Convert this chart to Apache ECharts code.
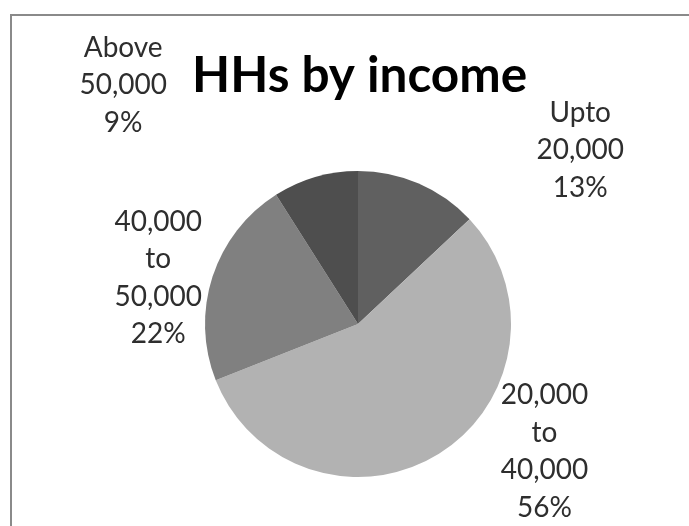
<!DOCTYPE html>
<html>
<head>
<meta charset="utf-8">
<title>HHs by income</title>
<script src="https://cdn.jsdelivr.net/npm/echarts@6/dist/echarts.min.js"></script>
<style>
  html, body { margin: 0; padding: 0; background: #ffffff; }
  #chart { width: 689px; height: 526px; }
</style>
</head>
<body>
<div id="chart"></div>
<script>
// Household income bands and their share of households (%)
const incomeBands = ['Upto\n20,000', '20,000\nto\n40,000', '40,000\nto\n50,000', 'Above\n50,000'];
const shares = [13, 56, 22, 9];
const sliceColors = ['#606060', '#b2b2b2', '#808080', '#4e4e4e'];

// Label anchors around the pie: [angle clockwise from 12 o'clock in degrees, distance from centre in px]
const labelAnchors = [[52, 282], [124.4, 226], [-77, 205], [-44.5, 335]];

const pieCenter = [358, 324];
const pieRadius = 153;

const chart = echarts.init(document.getElementById('chart'), null, { renderer: 'canvas' });

chart.setOption({
  backgroundColor: '#ffffff',
  animation: false,
  title: {
    text: 'HHs by income',
    left: 187,
    top: 46,
    textStyle: {
      fontFamily: 'Lato',
      fontWeight: 'bold',
      fontSize: 49.5,
      color: '#000000'
    }
  },
  graphic: [{
    type: 'polyline',
    shape: { points: [[11, 526], [11, 15], [689, 15]] },
    style: { stroke: '#8a8a8a', lineWidth: 2, fill: null }
  }],
  series: [{
    type: 'pie',
    center: pieCenter,
    radius: pieRadius,
    startAngle: 90,
    clockwise: true,
    avoidLabelOverlap: false,
    itemStyle: { borderWidth: 0 },
    emphasis: { disabled: true },
    label: {
      show: true,
      position: 'outside',
      formatter: p => p.name + '\n' + p.value + '%',
      fontFamily: 'Lato',
      fontSize: 28,
      lineHeight: 37.5,
      color: '#2e2e2e',
      align: 'center'
    },
    labelLine: { show: false },
    labelLayout: p => {
      const a = labelAnchors[p.dataIndex];
      const rad = a[0] * Math.PI / 180;
      return {
        x: pieCenter[0] + Math.sin(rad) * a[1],
        y: pieCenter[1] - Math.cos(rad) * a[1],
        align: 'center',
        verticalAlign: 'middle'
      };
    },
    data: incomeBands.map((name, i) => ({
      name: name,
      value: shares[i],
      itemStyle: { color: sliceColors[i] }
    }))
  }]
});
</script>
</body>
</html>
